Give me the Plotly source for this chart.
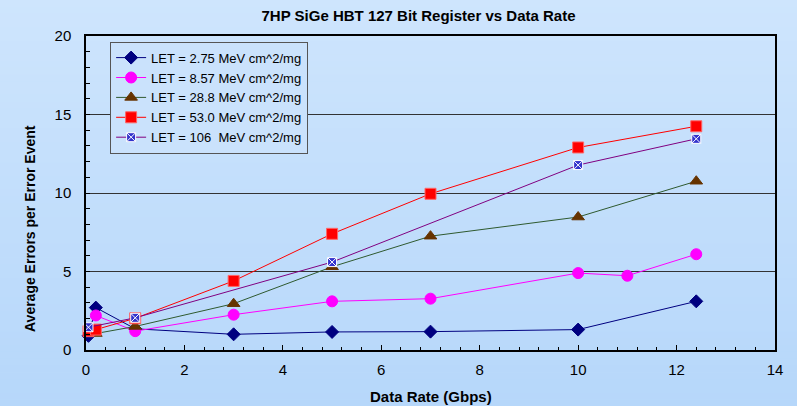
import plotly.graph_objects as go

# Data rate (Gbps) and average errors per error event for each LET value
rate_275 = [0.05, 0.2, 1, 3, 5, 7, 10, 12.4]
err_275 = [0.9, 2.7, 1.35, 1.0, 1.15, 1.17, 1.3, 3.1]

rate_857 = [0.2, 1, 3, 5, 7, 10, 11, 12.4]
err_857 = [2.2, 1.2, 2.25, 3.1, 3.27, 4.9, 4.73, 6.1]

rate_288 = [0.2, 1, 3, 5, 7, 10, 12.4]
err_288 = [1.05, 1.5, 2.95, 5.3, 7.25, 8.47, 10.75]

rate_530 = [0.05, 0.2, 1, 3, 5, 7, 10, 12.4]
err_530 = [1.2, 1.3, 2.02, 4.4, 7.4, 9.95, 12.9, 14.25]

rate_106 = [0.05, 1, 5, 10, 12.4]
err_106 = [1.45, 2.05, 5.6, 11.78, 13.45]

series_names = [
    "LET = 2.75 MeV cm^2/mg",
    "LET = 8.57 MeV cm^2/mg",
    "LET = 28.8 MeV cm^2/mg",
    "LET = 53.0 MeV cm^2/mg",
    "LET = 106  MeV cm^2/mg",
]

x_ticks = [0, 2, 4, 6, 8, 10, 12, 14]
y_ticks = [0, 5, 10, 15, 20]

FONT = "Liberation Sans, Arial, sans-serif"

fig = go.Figure()

styles = [
    (rate_275, err_275, "#000080", dict(symbol="diamond", size=10, color="#000080",
                                         line=dict(color="#000080", width=1))),
    (rate_857, err_857, "#ff00ff", dict(symbol="circle", size=11, color="#ff00ff",
                                         line=dict(color="#ff00ff", width=1))),
    (rate_288, err_288, "#2f5a2f", dict(symbol="triangle-up", size=11, color="#663300",
                                         line=dict(color="#663300", width=1))),
    (rate_530, err_530, "#ff0000", dict(symbol="square", size=11, color="#ff0000",
                                         line=dict(color="#ff6666", width=1))),
    (rate_106, err_106, "#800080", dict(symbol="square-x", size=9, color="#3333cc",
                                         line=dict(color="#ffffff", width=1))),
]

for name, (xs, ys, lc, mk) in zip(series_names, styles):
    fig.add_trace(go.Scatter(
        x=xs, y=ys, name=name, mode="lines+markers",
        line=dict(color=lc, width=1), marker=mk, cliponaxis=False,
    ))

# Soft vertical blue gradient behind the whole figure
L, R, T, B = 86, 22, 36, 56
W, H = 797, 406
pw, ph = W - L - R, H - T - B
y_top = 1 + T / ph
y_bot = -B / ph
x_left = -L / pw
x_right = 1 + R / pw
top_rgb = (206, 229, 253)
bot_rgb = (182, 215, 250)
n_bands = 60
shapes = []
for i in range(n_bands):
    f0 = i / n_bands
    f1 = (i + 1) / n_bands
    fm = (f0 + f1) / 2
    c = tuple(round(top_rgb[k] + (bot_rgb[k] - top_rgb[k]) * fm) for k in range(3))
    shapes.append(dict(
        type="rect", xref="paper", yref="paper", layer="below",
        x0=x_left, x1=x_right,
        y0=y_top - (y_top - y_bot) * f1 - 0.002, y1=y_top - (y_top - y_bot) * f0,
        fillcolor="rgb(%d,%d,%d)" % c, line=dict(width=0),
    ))

# Axis titles placed as annotations in pixel-derived paper coordinates
annotations = [
    dict(text="<b>Data Rate (Gbps)</b>", xref="paper", yref="paper",
         x=0.5, y=(0 - 46) / ph, xanchor="center", yanchor="middle",
         showarrow=False, font=dict(family=FONT, size=15, color="#000000")),
    dict(text="<b>Average Errors per Error Event</b>", xref="paper", yref="paper",
         x=(30 - L) / pw, y=(350 - 36 - 193) / ph, xanchor="center", yanchor="middle",
         textangle=-90, showarrow=False, font=dict(family=FONT, size=14, color="#000000")),
]

fig.update_layout(
    width=W, height=H,
    margin=dict(l=L, r=R, t=T, b=B),
    paper_bgcolor="rgb(194,222,251)",
    plot_bgcolor="rgba(0,0,0,0)",
    shapes=shapes,
    annotations=annotations,
    font=dict(family=FONT, color="#000000", size=14),
    title=dict(
        text="<b>7HP SiGe HBT 127 Bit Register vs Data Rate</b>",
        x=(L + pw / 2 - 12) / W, xanchor="center", y=1 - 16 / H, yanchor="middle",
        font=dict(family=FONT, size=15, color="#000000"),
    ),
    showlegend=True,
    legend=dict(
        x=0.035, y=0.982, xanchor="left", yanchor="top",
        bgcolor="rgb(202,226,252)", bordercolor="#555555", borderwidth=1,
        font=dict(family=FONT, size=13, color="#000000"),
        tracegroupgap=0, itemwidth=30,
    ),
    xaxis=dict(
        range=[0, 14], tickvals=x_ticks, ticktext=[str(v) for v in x_ticks],
        ticks="inside", ticklen=5, tickcolor="#000000", tickwidth=1,
        minor=dict(dtick=0.4, ticks="inside", ticklen=3, tickcolor="#000000", showgrid=False),
        showline=True, linecolor="#000000", linewidth=1.5, mirror=True,
        showgrid=False, zeroline=False, automargin=False,
        tickfont=dict(family=FONT, size=15),
        ticklabelstandoff=5,
    ),
    yaxis=dict(
        range=[0, 20], tickvals=y_ticks, ticktext=[str(v) for v in y_ticks],
        ticks="inside", ticklen=4, tickcolor="#000000", tickwidth=1,
        minor=dict(dtick=1, ticks="inside", ticklen=4, tickcolor="#000000", showgrid=False),
        showline=True, linecolor="#000000", linewidth=1.5, mirror=True,
        showgrid=True, gridcolor="#333333", gridwidth=1, zeroline=False, automargin=False,
        tickfont=dict(family=FONT, size=15),
        ticklabelstandoff=10,
    ),
)

fig.write_html("out.html")
